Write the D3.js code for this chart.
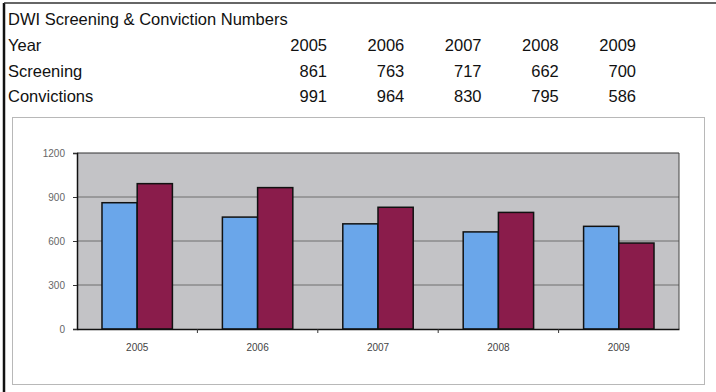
<!DOCTYPE html>
<html>
<head>
<meta charset="utf-8">
<script src="https://cdn.jsdelivr.net/npm/d3@7"></script>
<style>
  html, body { margin: 0; padding: 0; background: #fff; }
  svg { display: block; }
  text { font-family: "Liberation Sans", Arial, sans-serif; }
</style>
</head>
<body>
<svg id="chart" width="716" height="392"></svg>
<script>
// DWI screening and conviction counts by year
const years = ["2005", "2006", "2007", "2008", "2009"];
const screening = [861, 763, 717, 662, 700];
const convictions = [991, 964, 830, 795, 586];
const yTicks = [0, 300, 600, 900, 1200];

const seriesNames = ["Screening", "Convictions"];
const seriesValues = [screening, convictions];
const seriesColors = ["#6aa6ea", "#8a1c4b"];

const svg = d3.select("#chart");

// Outer page frame
svg.append("line").attr("x1", 4).attr("x2", 4).attr("y1", 3).attr("y2", 392)
  .attr("stroke", "#111").attr("stroke-width", 2.5);
svg.append("line").attr("x1", 4).attr("x2", 716).attr("y1", 3).attr("y2", 3)
  .attr("stroke", "#333").attr("stroke-width", 1.5);

// Data table above the chart (numbers right-aligned under each year)
const colX = d3.scalePoint().domain(years).range([327, 636]);
const tableFont = 16.5;

svg.append("text").attr("x", 8).attr("y", 25)
  .attr("font-size", tableFont).attr("fill", "#111")
  .text("DWI Screening & Conviction Numbers");

const rows = [
  { label: "Year", values: years, y: 51 },
  { label: seriesNames[0], values: screening, y: 77 },
  { label: seriesNames[1], values: convictions, y: 102 }
];
rows.forEach(r => {
  svg.append("text").attr("x", 8).attr("y", r.y)
    .attr("font-size", tableFont).attr("fill", "#111").text(r.label);
  svg.selectAll(null).data(r.values).enter().append("text")
    .attr("x", (d, i) => colX(years[i]))
    .attr("y", r.y)
    .attr("text-anchor", "end")
    .attr("font-size", tableFont).attr("fill", "#111")
    .text(d => d);
});

// Chart frame
svg.append("rect").attr("x", 12.5).attr("y", 117.5).attr("width", 692).attr("height", 267)
  .attr("fill", "#fff").attr("stroke", "#b8b8b8").attr("stroke-width", 1);

// Plot area
const plot = { left: 77, right: 679, top: 153, bottom: 329 };
const x = d3.scaleBand().domain(years).range([plot.left, plot.right]);
const y = d3.scaleLinear().domain([0, 1200]).range([plot.bottom, plot.top]);
const inner = d3.scaleBand().domain(seriesNames).range([0, x.bandwidth()])
  .paddingOuter(0.71).paddingInner(0);

svg.append("rect").attr("x", plot.left).attr("y", plot.top)
  .attr("width", plot.right - plot.left).attr("height", plot.bottom - plot.top)
  .attr("fill", "#c3c3c6");

// Gridlines
svg.append("g").selectAll("line").data(yTicks.slice(1)).enter().append("line")
  .attr("x1", plot.left).attr("x2", plot.right)
  .attr("y1", d => y(d)).attr("y2", d => y(d))
  .attr("stroke", d => d === 1200 ? "#333" : "#6e6e6e")
  .attr("stroke-width", d => d === 1200 ? 1.2 : 1);

// Right border of plot area
svg.append("line").attr("x1", plot.right).attr("x2", plot.right)
  .attr("y1", plot.top).attr("y2", plot.bottom)
  .attr("stroke", "#444").attr("stroke-width", 1);

// Bars
seriesNames.forEach((name, si) => {
  svg.append("g").selectAll("rect").data(seriesValues[si]).enter().append("rect")
    .attr("x", (d, i) => x(years[i]) + inner(name))
    .attr("y", d => y(d))
    .attr("width", inner.bandwidth())
    .attr("height", d => y(0) - y(d))
    .attr("fill", seriesColors[si])
    .attr("stroke", "#111").attr("stroke-width", 1.5);
});

// Axes
const yAxis = d3.axisLeft(y).tickValues(yTicks).tickFormat(d3.format("d"))
  .tickSize(4).tickPadding(8);
const gy = svg.append("g").attr("transform", `translate(${plot.left},0)`).call(yAxis);
gy.select(".domain").attr("stroke", "#111").attr("stroke-width", 1.5);
gy.selectAll(".tick line").attr("stroke", "#333");
gy.selectAll("text").attr("font-size", 10).attr("fill", "#666")
  .style("font-family", "'Liberation Sans', Arial, sans-serif");

const xAxis = d3.axisBottom(x).tickSize(0).tickPadding(15);
const gx = svg.append("g").attr("transform", `translate(0,${plot.bottom})`).call(xAxis);
gx.select(".domain").attr("stroke", "#111").attr("stroke-width", 1.5);
gx.selectAll("text").attr("font-size", 10).attr("fill", "#444")
  .style("font-family", "'Liberation Sans', Arial, sans-serif");
gx.selectAll(".sep").data(years.slice(1)).enter().append("line")
  .attr("x1", d => x(d)).attr("x2", d => x(d))
  .attr("y1", 0).attr("y2", 4).attr("stroke", "#333");
</script>
</body>
</html>
